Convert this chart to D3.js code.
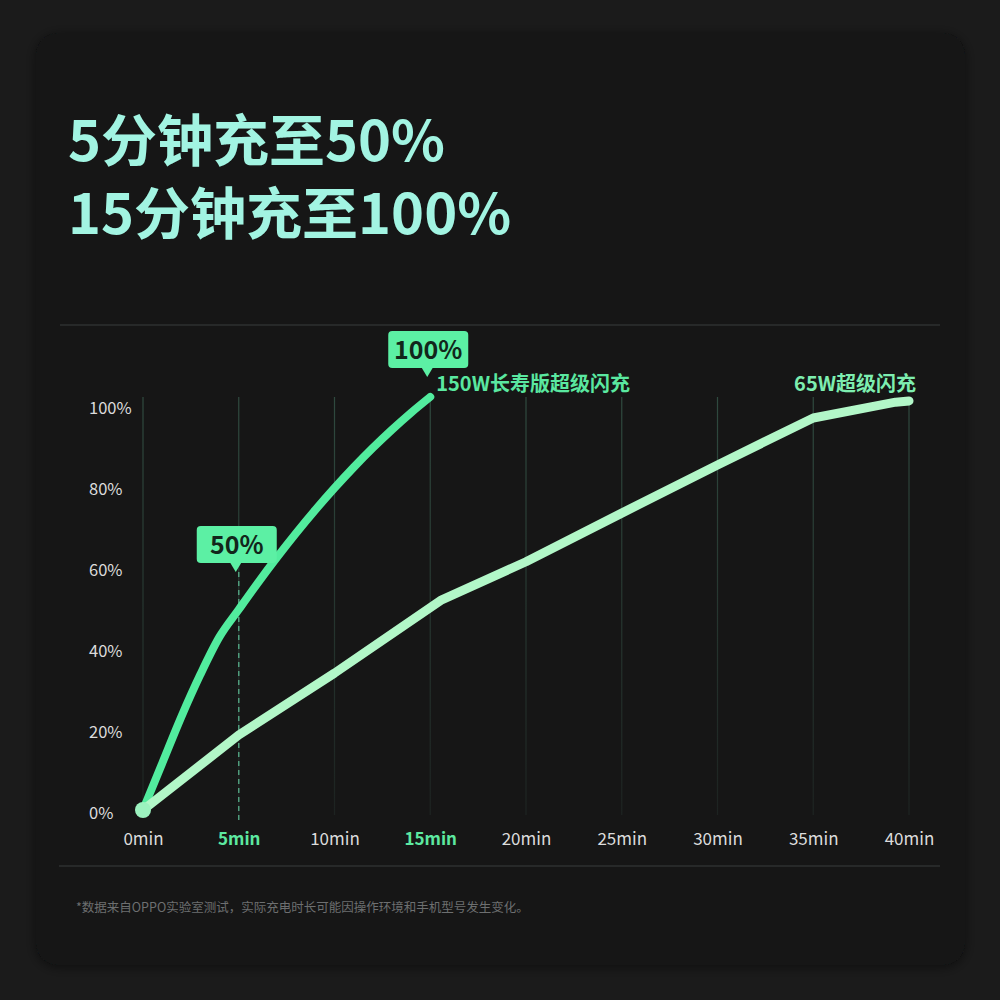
<!DOCTYPE html>
<html><head><meta charset="utf-8">
<script src="https://cdn.jsdelivr.net/npm/d3@7/dist/d3.min.js"></script>
<style>
html,body{margin:0;padding:0;background:#1b1b1b;}
svg{display:block;}
text{font-family:"Noto Sans CJK SC","Noto Sans",sans-serif;}
</style></head>
<body>
<svg id="c" width="1000" height="1000"></svg>
<script>
const titleLines = ["5分钟充至50%", "15分钟充至100%"];
const xTicks = [0,5,10,15,20,25,30,35,40];
const xTickLabels = ["0min","5min","10min","15min","20min","25min","30min","35min","40min"];
const xHighlight = [5,15];
const yTicks = [0,20,40,60,80,100];
const yTickLabels = ["0%","20%","40%","60%","80%","100%"];
const fastName = "150W长寿版超级闪充";
const fastTime = [0,1,2,3,4,5,6,7,8,9,10,11,12,13,14,15];
const fastValue = [0,11.5,23,33.5,42.8,49.5,56.1,62.4,68.4,74.1,79.5,84.6,89.4,93.9,98.1,102];
const slowName = "65W超级闪充";
const slowTime = [0,5,10,15.6,20,25,30,35,39.3,40];
const slowValue = [0,18.5,33.8,51.9,61.3,73.3,85.2,96.8,100.7,101];
const callouts = [{t:5, v:50, label:"50%"}, {t:15, v:100, label:"100%"}];
const footnote = "*数据来自OPPO实验室测试，实际充电时长可能因操作环境和手机型号发生变化。";

const svg = d3.select("#c");
const defs = svg.append("defs");
const sh = defs.append("filter").attr("id","sh").attr("x","-5%").attr("y","-5%").attr("width","110%").attr("height","110%");
sh.append("feDropShadow").attr("dx",0).attr("dy",2).attr("stdDeviation",6).attr("flood-color","#000").attr("flood-opacity",0.5);

svg.append("rect").attr("x",0).attr("y",0).attr("width",1000).attr("height",1000).attr("fill","#1b1b1b");
svg.append("rect").attr("x",36).attr("y",33).attr("width",929).attr("height",932).attr("rx",22)
  .attr("fill","#141516").attr("filter","url(#sh)");

// title
svg.selectAll("text.title").data(titleLines).enter().append("text")
  .attr("class","title").attr("x",68).attr("y",(d,i)=>161+i*73)
  .attr("font-size",56).attr("font-weight",700).attr("fill","#a2f4e2").text(d=>d);

// separators
svg.append("line").attr("x1",60).attr("x2",940).attr("y1",325).attr("y2",325).attr("stroke","#2e3030").attr("stroke-width",1.5);
svg.append("line").attr("x1",59).attr("x2",940).attr("y1",866).attr("y2",866).attr("stroke","#2e3030").attr("stroke-width",1.5);

const x = d3.scaleLinear().domain([0,40]).range([143,909]);
const y = d3.scaleLinear().domain([0,100]).range([810,405]);

// gridlines
const gg = defs.append("linearGradient").attr("id","gridg").attr("gradientUnits","userSpaceOnUse")
  .attr("x1",0).attr("y1",397).attr("x2",0).attr("y2",815);
gg.append("stop").attr("offset","0%").attr("stop-color","#2f4a3f");
gg.append("stop").attr("offset","100%").attr("stop-color","#1d2321");
svg.append("g").selectAll("line").data(xTicks).enter().append("line")
  .attr("x1",d=>x(d)).attr("x2",d=>x(d)).attr("y1",397).attr("y2",815)
  .attr("stroke","url(#gridg)").attr("stroke-width",1.2);

// y axis labels
const yAxis = d3.axisLeft(y).tickValues(yTicks).tickFormat((d,i)=>yTickLabels[i]).tickSize(0);
const ya = svg.append("g").attr("transform","translate(89,0)").call(yAxis);
ya.select(".domain").remove();
ya.selectAll("text").attr("text-anchor","start").attr("x",0).attr("dy","0.5em")
  .attr("font-size",16.5).attr("fill","#dcdcdc").attr("font-family","Roboto,'Noto Sans',sans-serif");

// x axis labels
const xAxis = d3.axisBottom(x).tickValues(xTicks).tickFormat((d,i)=>xTickLabels[i]).tickSize(0);
const xa = svg.append("g").attr("transform","translate(0,830)").call(xAxis);
xa.select(".domain").remove();
xa.selectAll("text").attr("font-size",17).attr("font-family","Roboto,'Noto Sans',sans-serif")
  .attr("fill",d=>xHighlight.includes(d)?"#5de8a0":"#dcdcdc")
  .attr("font-weight",d=>xHighlight.includes(d)?700:400);

// dashed line at 5min
svg.append("line").attr("x1",x(5)).attr("x2",x(5)).attr("y1",572).attr("y2",820)
  .attr("stroke","#4f9c7c").attr("stroke-width",1.5).attr("stroke-dasharray","5,4");

// lines
const fastData = fastTime.map((t,i)=>[t,fastValue[i]]);
const slowData = slowTime.map((t,i)=>[t,slowValue[i]]);
const fastLine = d3.line().x(d=>x(d[0])).y(d=>y(d[1])).curve(d3.curveMonotoneX);
const slowLine = d3.line().x(d=>x(d[0])).y(d=>y(d[1])).curve(d3.curveLinear);
svg.append("path").datum(fastData).attr("d",fastLine).attr("fill","none")
  .attr("stroke","#52ec9e").attr("stroke-width",8).attr("stroke-linecap","round").attr("stroke-linejoin","round");
svg.append("path").datum(slowData).attr("d",slowLine).attr("fill","none")
  .attr("stroke","#b2f7c8").attr("stroke-width",9).attr("stroke-linecap","round").attr("stroke-linejoin","round");

// start dot
svg.append("circle").attr("cx",x(0)).attr("cy",y(0)).attr("r",8).attr("fill","#9cf2bf");

// series labels
svg.append("text").attr("x",x(15)+6).attr("y",391).attr("font-size",20).attr("font-weight",700)
  .attr("fill","#5ae8a0").text(fastName);
svg.append("text").attr("x",x(40)+7).attr("y",391).attr("text-anchor","end").attr("font-size",20).attr("font-weight",700)
  .attr("fill","#7deeb0").text(slowName);

// callouts
const cw = 80, ch = 37;
const cg = svg.selectAll("g.callout").data(callouts).enter().append("g").attr("class","callout");
const tipY = d => d.t===5 ? 572 : 377;
cg.append("rect").attr("x",d=>x(d.t)-cw/2-2).attr("y",d=>tipY(d)-9-ch).attr("width",cw).attr("height",ch).attr("rx",4)
  .attr("fill","#5cf0a4");
cg.append("path").attr("d",d=>{const cx=x(d.t)-3, ty=tipY(d); return `M${cx-6},${ty-10} L${cx+6},${ty-10} L${cx},${ty} Z`;})
  .attr("fill","#5cf0a4");
cg.append("text").attr("x",d=>x(d.t)-2).attr("y",d=>tipY(d)-9-ch/2).attr("dy","0.36em").attr("text-anchor","middle")
  .attr("font-size",25).attr("font-weight",600).attr("fill","#12261b").attr("font-family","Inter,'Noto Sans',sans-serif")
  .text(d=>d.label);

// footnote
svg.append("text").attr("x",76).attr("y",912).attr("font-size",12.5).attr("fill","#6d6f70").text(footnote);
</script>
</body></html>
